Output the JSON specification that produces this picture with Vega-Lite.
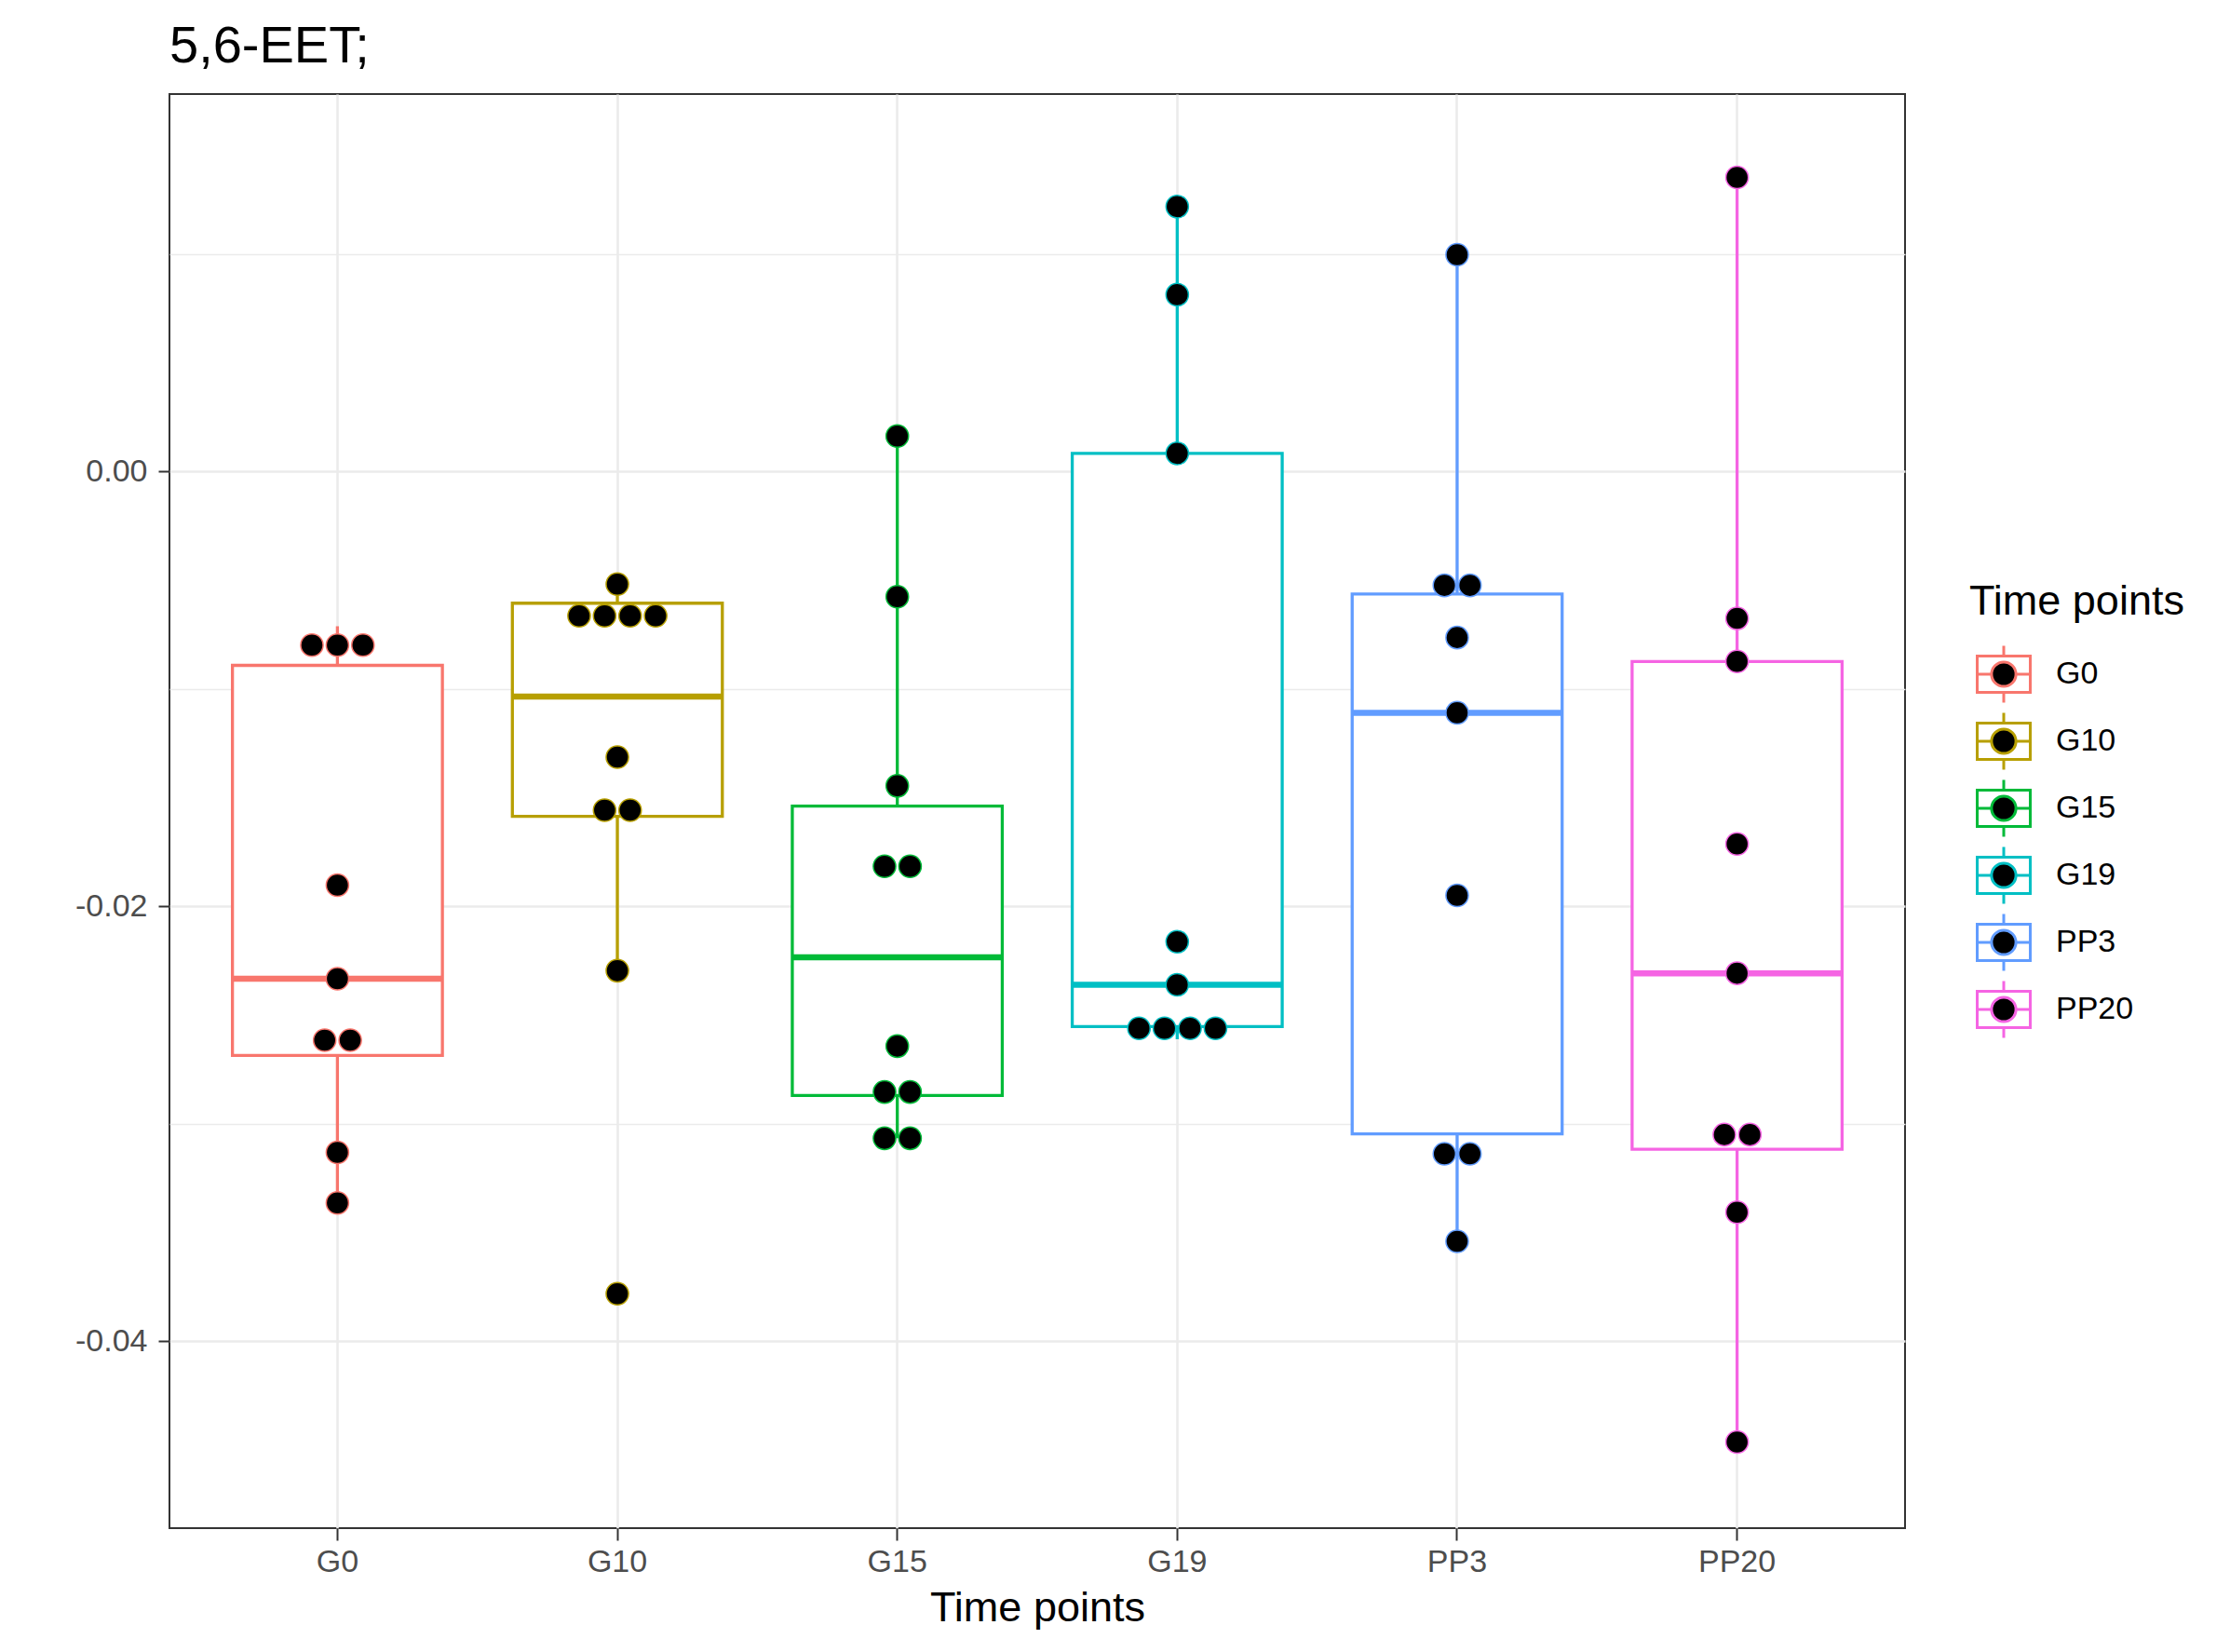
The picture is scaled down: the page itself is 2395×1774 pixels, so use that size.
{
  "$schema": "https://vega.github.io/schema/vega-lite/v6.json",
  "width": 1864,
  "height": 1540,
  "autosize": {"type": "none"},
  "padding": {"left": 182, "top": 101, "right": 349, "bottom": 133},
  "background": "white",
  "title": {"text": "5,6-EET;", "anchor": "start", "frame": "group", "fontSize": 56, "fontWeight": "normal", "color": "black", "font": "Liberation Sans", "baseline": "alphabetic", "offset": -22},
  "config": {
    "font": "Liberation Sans",
    "locale": {"number": {"decimal": ".", "thousands": ",", "grouping": [3], "currency": ["$", ""], "minus": "-"}},
    "view": {"stroke": "#333333", "strokeWidth": 2}
  },
  "datasets": {
    "boxes": [
      {"group": "G0", "lower": -0.03363, "q1": -0.02685, "median": -0.02332, "q3": -0.00891, "upper": -0.00711},
      {"group": "G10", "lower": -0.02295, "q1": -0.01585, "median": -0.01034, "q3": -0.00605, "upper": -0.00517},
      {"group": "G15", "lower": -0.03066, "q1": -0.02869, "median": -0.02234, "q3": -0.01538, "upper": 0.00164},
      {"group": "G19", "lower": -0.0261, "q1": -0.02552, "median": -0.0236, "q3": 0.00084, "upper": 0.01219},
      {"group": "PP3", "lower": -0.0354, "q1": -0.03046, "median": -0.01109, "q3": -0.00563, "upper": 0.00998},
      {"group": "PP20", "lower": -0.04463, "q1": -0.03116, "median": -0.02307, "q3": -0.00873, "upper": 0.01353}
    ],
    "dots": [
      {"group": "G0", "value": -0.00798}, {"group": "G0", "value": -0.00798}, {"group": "G0", "value": -0.00798},
      {"group": "G0", "value": -0.01902}, {"group": "G0", "value": -0.02332},
      {"group": "G0", "value": -0.02615}, {"group": "G0", "value": -0.02615},
      {"group": "G0", "value": -0.03131}, {"group": "G0", "value": -0.03363},
      {"group": "G10", "value": -0.00517},
      {"group": "G10", "value": -0.00663}, {"group": "G10", "value": -0.00663}, {"group": "G10", "value": -0.00663}, {"group": "G10", "value": -0.00663},
      {"group": "G10", "value": -0.01313},
      {"group": "G10", "value": -0.01557}, {"group": "G10", "value": -0.01557},
      {"group": "G10", "value": -0.02295}, {"group": "G10", "value": -0.03781},
      {"group": "G15", "value": 0.00164}, {"group": "G15", "value": -0.00575}, {"group": "G15", "value": -0.01445},
      {"group": "G15", "value": -0.01815}, {"group": "G15", "value": -0.01815},
      {"group": "G15", "value": -0.02642},
      {"group": "G15", "value": -0.02853}, {"group": "G15", "value": -0.02853},
      {"group": "G15", "value": -0.03066}, {"group": "G15", "value": -0.03066},
      {"group": "G19", "value": 0.01219}, {"group": "G19", "value": 0.00814}, {"group": "G19", "value": 0.00084},
      {"group": "G19", "value": -0.02162}, {"group": "G19", "value": -0.0236},
      {"group": "G19", "value": -0.0256}, {"group": "G19", "value": -0.0256}, {"group": "G19", "value": -0.0256}, {"group": "G19", "value": -0.0256},
      {"group": "PP3", "value": 0.00998},
      {"group": "PP3", "value": -0.00523}, {"group": "PP3", "value": -0.00523},
      {"group": "PP3", "value": -0.00763}, {"group": "PP3", "value": -0.01109}, {"group": "PP3", "value": -0.01949},
      {"group": "PP3", "value": -0.03137}, {"group": "PP3", "value": -0.03137},
      {"group": "PP3", "value": -0.0354},
      {"group": "PP20", "value": 0.01353}, {"group": "PP20", "value": -0.00675}, {"group": "PP20", "value": -0.00873},
      {"group": "PP20", "value": -0.01712}, {"group": "PP20", "value": -0.02307},
      {"group": "PP20", "value": -0.03049}, {"group": "PP20", "value": -0.03049},
      {"group": "PP20", "value": -0.03406}, {"group": "PP20", "value": -0.04463}
    ]
  },
  "encoding": {
    "x": {
      "field": "group", "type": "nominal", "title": "Time points",
      "sort": ["G0", "G10", "G15", "G19", "PP3", "PP20"],
      "scale": {"domain": ["G0", "G10", "G15", "G19", "PP3", "PP20"], "paddingInner": 0.25, "paddingOuter": 0.225},
      "axis": {"orient": "bottom", "grid": true, "gridColor": "#EBEBEB", "gridWidth": 2.6, "bandPosition": 0.5, "domain": false, "tickSize": 13, "tickWidth": 2, "tickColor": "#333333", "labelFontSize": 34, "labelColor": "#4D4D4D", "labelPadding": 6, "labelAngle": 0, "titleFontSize": 45, "titleColor": "black", "titleFontWeight": "normal", "titlePadding": 10}
    }
  },
  "layer": [
    {
      "data": {"name": "boxes"},
      "mark": {"type": "rule", "strokeWidth": 3.3},
      "encoding": {
        "y": {"field": "lower", "type": "quantitative", "scale": {"domain": [-0.04859, 0.017366], "nice": false, "zero": false}, "axis": null},
        "y2": {"field": "upper"},
        "color": {"field": "group", "type": "nominal", "scale": {"domain": ["G10", "G0", "G15", "G19", "PP3", "PP20"], "range": ["#B79F00", "#F8766D", "#00BA38", "#00BFC4", "#619CFF", "#F564E3"]}, "legend": null}
      }
    },
    {
      "data": {"name": "boxes"},
      "mark": {"type": "bar", "fill": "white", "strokeWidth": 0, "size": 225.5},
      "encoding": {
        "y": {"field": "q1", "type": "quantitative", "scale": {"domain": [-0.04859, 0.017366], "nice": false, "zero": false},
          "axis": {"orient": "right", "values": [-0.03, -0.01, 0.01], "grid": true, "gridColor": "#EBEBEB", "gridWidth": 1.3, "labels": false, "ticks": false, "domain": false, "title": null}},
        "y2": {"field": "q3"}
      }
    },
    {
      "data": {"name": "boxes"},
      "mark": {"type": "bar", "filled": false, "strokeWidth": 3.3, "opacity": 1, "size": 225.5},
      "encoding": {
        "y": {"field": "q1", "type": "quantitative", "scale": {"domain": [-0.04859, 0.017366], "nice": false, "zero": false}, "axis": null},
        "y2": {"field": "q3"},
        "color": {"field": "group", "type": "nominal", "scale": {"domain": ["G10", "G0", "G15", "G19", "PP3", "PP20"], "range": ["#B79F00", "#F8766D", "#00BA38", "#00BFC4", "#619CFF", "#F564E3"]}, "legend": null}
      }
    },
    {
      "data": {"name": "boxes"},
      "mark": {"type": "tick", "thickness": 6.5, "size": 226, "opacity": 1},
      "encoding": {
        "y": {"field": "median", "type": "quantitative", "scale": {"domain": [-0.04859, 0.017366], "nice": false, "zero": false}, "axis": null},
        "color": {"field": "group", "type": "nominal", "scale": {"domain": ["G10", "G0", "G15", "G19", "PP3", "PP20"], "range": ["#B79F00", "#F8766D", "#00BA38", "#00BFC4", "#619CFF", "#F564E3"]}, "legend": null}
      }
    },
    {
      "data": {"name": "dots"},
      "transform": [
        {"window": [{"op": "row_number", "as": "rn"}, {"op": "count", "as": "n"}], "groupby": ["group", "value"], "frame": [null, null]},
        {"calculate": "datum.rn - (datum.n + 1) / 2", "as": "slot"}
      ],
      "mark": {"type": "point", "shape": "circle", "filled": true, "fill": "black", "size": 580, "strokeWidth": 1.5, "opacity": 1},
      "encoding": {
        "y": {"field": "value", "type": "quantitative", "scale": {"domain": [-0.04859, 0.017366], "nice": false, "zero": false},
          "axis": {"orient": "left", "values": [-0.04, -0.02, 0], "format": ".2f", "grid": true, "gridColor": "#EBEBEB", "gridWidth": 2.6, "domain": false, "tickSize": 12, "tickWidth": 2, "tickColor": "#333333", "labelFontSize": 34, "labelColor": "#4D4D4D", "labelPadding": 12, "title": null}},
        "xOffset": {"field": "slot", "type": "quantitative", "scale": {"domain": [-2, 2], "range": [57.95, 167.55]}},
        "stroke": {
          "field": "group", "type": "nominal",
          "scale": {"domain": ["G0", "G10", "G15", "G19", "PP3", "PP20"], "range": ["#F8766D", "#B79F00", "#00BA38", "#00BFC4", "#619CFF", "#F564E3"]},
          "legend": {
            "title": "Time points", "orient": "none", "legendX": 1933, "legendY": 523,
            "symbolType": "M-0.98,-0.64L0.98,-0.64M0.934,-0.69L0.934,0.69M0.98,0.64L-0.98,0.64M-0.934,0.69L-0.934,-0.69M0,-1L0,-0.64M0,0.64L0,1M-0.934,0L-0.43,0M0.43,0L0.934,0M-0.43,0A0.43,0.43,0,1,0,0.43,0A0.43,0.43,0,1,0,-0.43,0Z",
            "symbolSize": 3721, "symbolStrokeWidth": 3, "symbolFillColor": "black", "symbolOpacity": 1,
            "labelFontSize": 34, "labelColor": "black", "labelOffset": 24, "labelLimit": 300,
            "titleFontSize": 45, "titleColor": "black", "titleFontWeight": "normal", "titlePadding": 23, "titleLimit": 500,
            "rowPadding": -2, "padding": 0, "symbolOffset": 5
          }
        }
      }
    }
  ],
  "resolve": {"axis": {"y": "independent"}, "scale": {"xOffset": "independent"}}
}
